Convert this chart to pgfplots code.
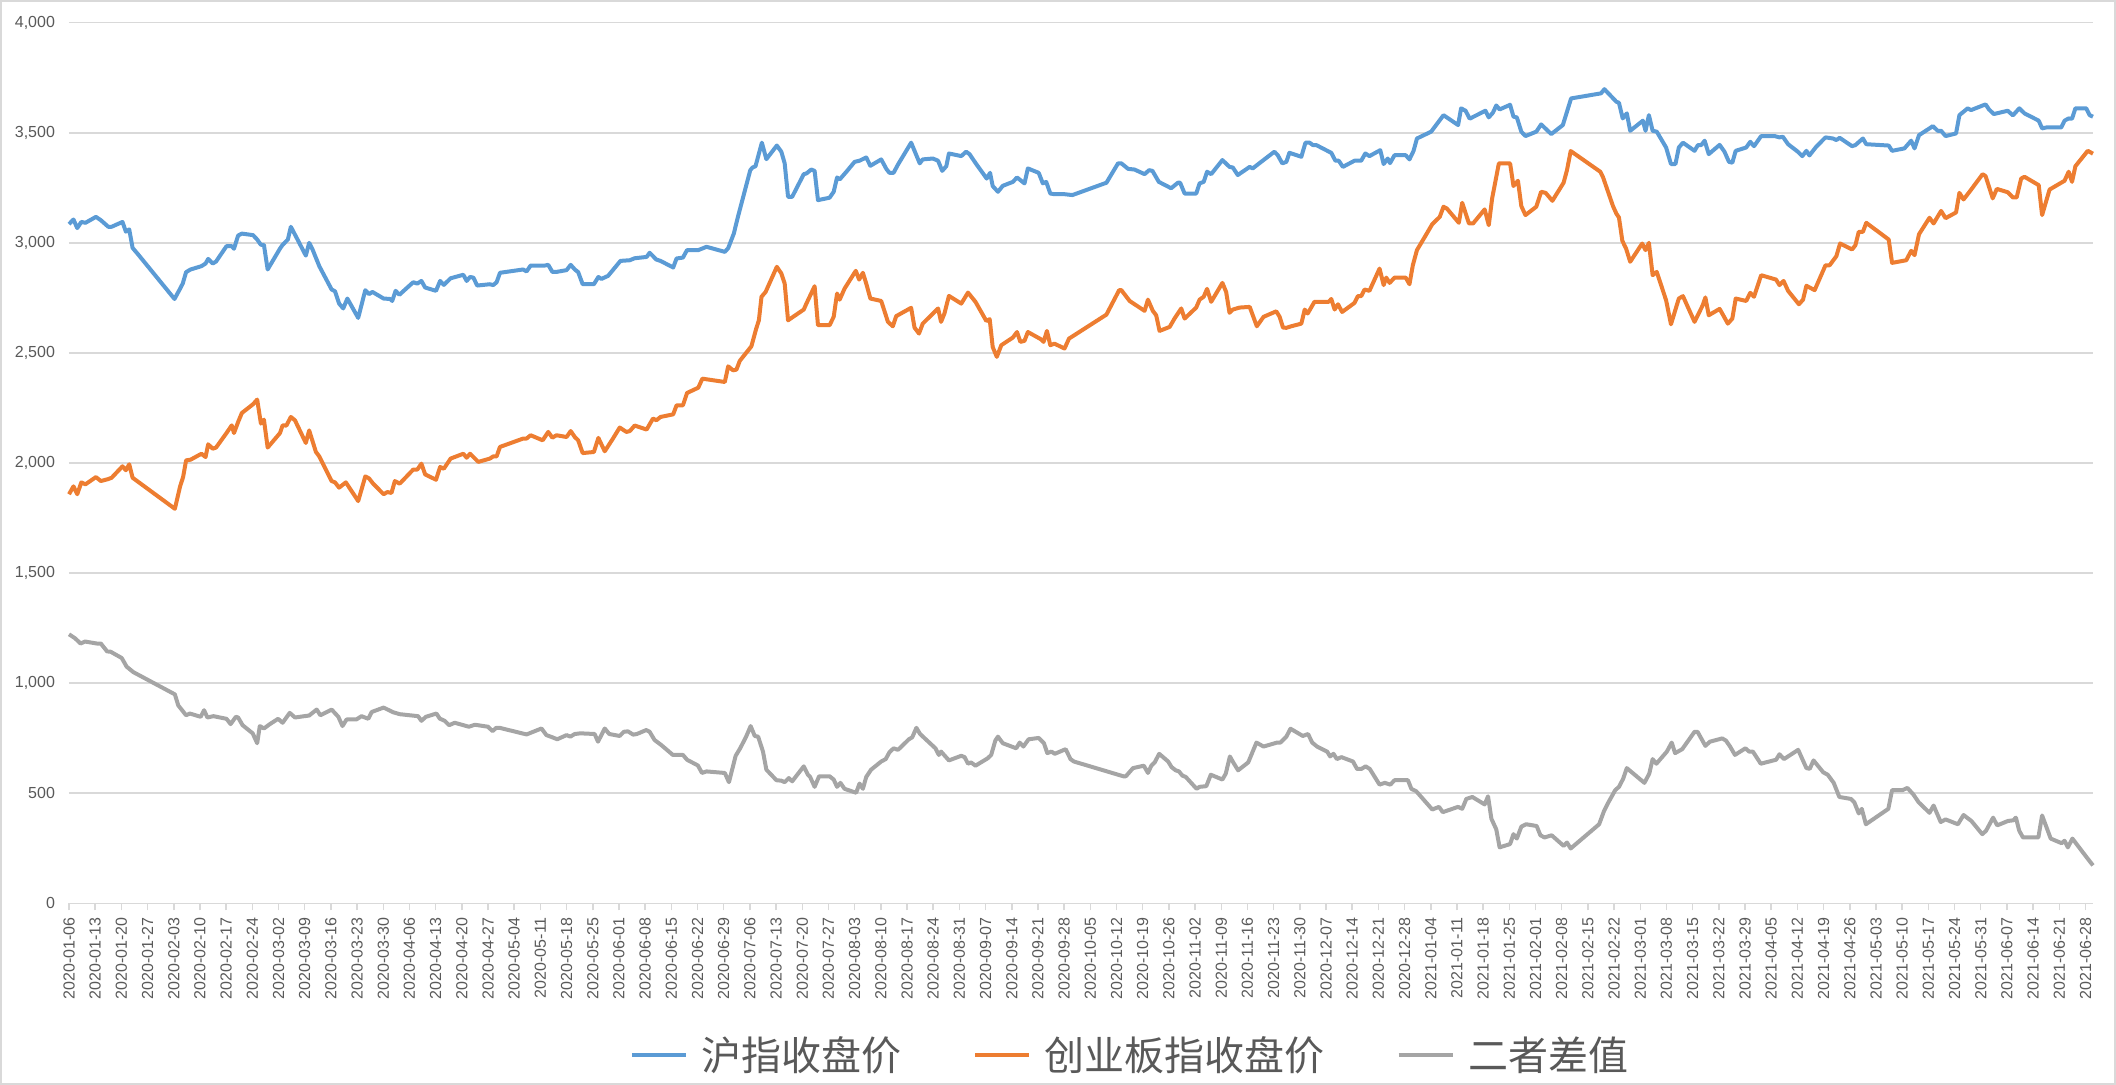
\documentclass[border=0pt]{standalone}
\usepackage{pgfplots}
\pgfplotsset{compat=1.18}
\usepackage{fontspec}
\setmainfont{Liberation Sans}
\newfontfamily\cjk{Noto Sans CJK SC}
\definecolor{sblue}{HTML}{5B9BD5}
\definecolor{sorange}{HTML}{ED7D31}
\definecolor{sgray}{HTML}{A5A5A5}
\definecolor{gridc}{HTML}{D9D9D9}
\definecolor{txt}{HTML}{595959}
\begin{document}
\begin{tikzpicture}
\path[use as bounding box] (0,0) rectangle (1058pt,542.5pt);
\draw[gridc, line width=0.75pt] (0.4pt,0.4pt) rectangle (1057.6pt,542.1pt);
\begin{axis}[
  at={(34.5pt,90.85pt)}, anchor=south west,
  scale only axis, width=1012pt, height=440.3pt,
  xmin=0, xmax=541, ymin=0, ymax=4000,
  clip=false,
  axis line style={draw=none},
  ymajorgrids, grid style={gridc, line width=0.75pt},
  ytick={0,500,...,4000},
  ytick style={draw=none},
  scaled y ticks=false,
  xtick={0,7,...,539},
  xtick pos=left,
  tick align=outside,
  major tick length=3.5pt,
  xtick style={gridc, line width=0.75pt},
  xticklabels={2020-01-06,2020-01-13,2020-01-20,2020-01-27,2020-02-03,2020-02-10,2020-02-17,2020-02-24,2020-03-02,2020-03-09,2020-03-16,2020-03-23,2020-03-30,2020-04-06,2020-04-13,2020-04-20,2020-04-27,2020-05-04,2020-05-11,2020-05-18,2020-05-25,2020-06-01,2020-06-08,2020-06-15,2020-06-22,2020-06-29,2020-07-06,2020-07-13,2020-07-20,2020-07-27,2020-08-03,2020-08-10,2020-08-17,2020-08-24,2020-08-31,2020-09-07,2020-09-14,2020-09-21,2020-09-28,2020-10-05,2020-10-12,2020-10-19,2020-10-26,2020-11-02,2020-11-09,2020-11-16,2020-11-23,2020-11-30,2020-12-07,2020-12-14,2020-12-21,2020-12-28,2021-01-04,2021-01-11,2021-01-18,2021-01-25,2021-02-01,2021-02-08,2021-02-15,2021-02-22,2021-03-01,2021-03-08,2021-03-15,2021-03-22,2021-03-29,2021-04-05,2021-04-12,2021-04-19,2021-04-26,2021-05-03,2021-05-10,2021-05-17,2021-05-24,2021-05-31,2021-06-07,2021-06-14,2021-06-21,2021-06-28},
  x tick label style={rotate=90, anchor=east, font=\fontsize{8}{9}\selectfont, text=txt},
  y tick label style={font=\fontsize{8}{9}\selectfont, text=txt},
  /pgf/number format/1000 sep={,},
  /pgf/number format/assume math mode=true,
  legend columns=3,
  legend style={at={(0.5247,-0.1723)}, anchor=center, draw=none, fill=none,
    font=\cjk\fontsize{20}{24}\selectfont, text=txt,
    /tikz/every odd column/.append style={column sep=4.7pt},
    /tikz/every even column/.append style={column sep=34pt}},
  legend image code/.code={\draw[#1, line width=2pt] (0pt,0pt) -- (27pt,0pt);},
  every axis plot/.append style={line width=2pt, line join=round, no markers},
]
\addplot[sblue] coordinates {
(0,3085) (1.2,3106) (2.2,3067) (3.3,3095) (4.4,3091) (7.2,3118) (8.5,3103) (10.5,3073) (11.4,3073) (14.3,3095) (15.2,3051) (16.1,3061) (17.0,2977) (18.5,2947) (28.2,2745) (29.7,2792) (30.4,2815) (31.3,2867) (32.5,2879) (35.4,2894) (36.5,2906) (37.2,2927) (38.4,2906) (39.3,2915) (42.1,2985) (43.5,2985) (44.1,2973) (45.2,3033) (46.2,3042) (49.2,3035) (50.3,3015) (51.3,2991) (52.1,2991) (53.1,2879) (56.4,2974) (57.1,2991) (58.5,3015) (59.3,3073) (61.3,3008) (63.3,2942) (64.2,3000) (65.1,2970) (66.9,2894) (70.2,2788) (71.1,2780) (72.2,2724) (73.3,2702) (74.4,2747) (77.3,2659) (79.2,2785) (80.2,2767) (81.1,2777) (84.1,2747) (85.8,2745) (86.4,2736) (87.3,2782) (88.3,2764)
(92.0,2821) (93.1,2815) (94.2,2827) (95.2,2797) (98.1,2782) (99.2,2827) (100.2,2809) (102.0,2839) (105.4,2855) (106.3,2827) (107.2,2845) (108.1,2842) (109.1,2806) (112.5,2812) (113.4,2808) (114.3,2821) (115.2,2864) (121.4,2879) (122.3,2870) (123.4,2897) (127.2,2897) (128.1,2900) (129.2,2868) (130.3,2868) (133.0,2876) (134.1,2900) (135.2,2879) (136.1,2867) (137.3,2812) (140.3,2812) (141.5,2845) (142.3,2836) (144.1,2850) (147.4,2918) (149.9,2921) (151.2,2930) (154.4,2936) (155.2,2955) (157.0,2924) (158.1,2918) (161.5,2888) (162.4,2929) (164.1,2933) (165.2,2967) (168.2,2967) (170.4,2982) (175.3,2959) (176.2,2976)
(177.7,3042) (178.8,3118) (182.1,3330) (182.7,3342) (183.5,3348) (185.2,3455) (186.4,3380) (189.2,3442) (190.4,3414) (191.3,3361) (192.2,3209) (193.3,3209) (196.4,3312) (197.1,3315) (198.4,3333) (199.3,3327) (200.2,3194) (203.3,3205) (204.4,3232) (205.3,3297) (206.0,3288) (207.8,3323) (210.0,3368) (211.3,3373) (213.1,3388) (214.2,3350) (217.1,3379) (218.5,3335) (219.3,3318) (220.4,3318) (221.6,3356) (225.1,3455) (227.4,3361) (228.2,3379) (230.9,3383) (232.3,3373) (233.4,3327) (234.5,3348) (235.2,3406) (238.5,3394) (239.8,3414) (240.7,3403) (242.5,3358) (245.3,3292) (246.2,3318) (246.9,3258) (248.3,3232) (249.6,3259) (252.3,3277) (253.4,3297) (255.4,3270) (256.3,3338) (259.2,3318) (260.3,3270) (261.2,3277) (262.3,3224) (263.4,3221) (266.1,3221)
(268.2,3217) (277.3,3273) (280.4,3361) (281.3,3361) (283.1,3336) (284.8,3333) (287.5,3312) (288.7,3330) (289.6,3327) (291.3,3277) (294.6,3248) (296.4,3273) (297.0,3273) (298.2,3224) (301.3,3224) (302.2,3270) (303.3,3277) (304.2,3323) (305.3,3312) (308.3,3376) (310.2,3345) (311.1,3342) (312.4,3308) (315.6,3345) (316.4,3338) (318.9,3371) (322.2,3414) (323.1,3398) (324.3,3361) (325.4,3368) (326.2,3409) (329.4,3391) (330.5,3455) (331.6,3455) (332.5,3444) (333.4,3444) (336.8,3414) (337.4,3409) (338.5,3373) (339.4,3373) (340.5,3345) (343.6,3373) (345.4,3373) (346.5,3406) (347.6,3394) (350.5,3421) (351.4,3358) (352.5,3383)
(353.1,3362) (354.3,3398) (357.3,3398) (358.3,3379) (359.4,3418) (360.3,3474) (364.1,3505) (367.4,3580) (371.3,3535) (372.1,3611) (373.3,3600) (374.4,3564) (378.6,3600) (379.5,3570) (380.6,3591) (381.5,3624) (382.4,3606) (385.2,3627) (386.1,3573) (387.0,3570) (388.2,3505) (389.3,3485) (392.2,3505) (393.5,3538) (396.2,3494) (399.3,3535) (401.5,3656) (409.5,3679) (410.4,3698) (413.6,3641) (414.3,3636) (415.3,3565) (416.4,3588) (417.3,3509) (420.7,3555) (421.4,3509) (422.3,3580) (423.3,3509) (424.4,3505) (426.9,3433) (428.2,3358) (429.4,3358) (430.3,3433) (431.4,3455) (434.5,3418) (435.4,3444) (436.3,3444) (437.2,3464) (438.3,3403) (441.2,3445)
(442.5,3414) (443.7,3368) (444.6,3364) (445.5,3418) (448.3,3433) (449.4,3459) (450.4,3439) (452.3,3485) (455.9,3485) (457.2,3479) (458.1,3482) (459.5,3448) (462.1,3414) (463.3,3394) (464.4,3418) (465.2,3397) (467.0,3436) (469.5,3479) (471.5,3474) (472.4,3467) (473.3,3477) (476.6,3439) (477.5,3444) (479.5,3474) (480.4,3448) (486.4,3442) (487.3,3418) (490.6,3429) (492.4,3464) (493.3,3429) (494.5,3489) (498.2,3530) (499.5,3509) (500.4,3509) (501.6,3485) (504.4,3497) (505.3,3580) (507.5,3611) (508.4,3603) (512.3,3629) (513.2,3606) (514.5,3585) (518.2,3600) (519.6,3579) (521.3,3611) (522.7,3588) (526.5,3555) (527.4,3520) (528.5,3524) (532.5,3524) (533.4,3555) (534.5,3565) (535.4,3564) (536.3,3611) (539.2,3611) (540.1,3580) (541,3573)
};
\addlegendentry{沪指收盘价}
\addplot[sorange] coordinates {
(0,1858) (1.2,1894) (2.2,1858) (3.3,1912) (4.4,1903) (7.2,1936) (8.5,1918) (10.5,1927) (11.4,1933) (14.3,1985) (15.2,1967) (16.1,1994) (17.0,1933) (28.3,1792) (29.7,1894) (30.5,1936) (31.3,2012) (32.5,2015) (35.4,2042) (36.5,2027) (37.2,2085) (38.4,2065) (39.3,2070) (42.1,2136) (43.5,2171) (44.1,2136) (45.2,2186) (46.2,2227) (49.2,2267) (50.3,2288) (51.3,2179) (52.1,2197) (53.1,2070) (56.4,2136) (57.1,2171) (58.1,2170) (59.3,2209) (60.4,2194) (63.3,2091) (64.2,2148) (66.0,2050) (66.9,2030) (70.2,1918) (71.1,1912) (72.2,1888) (74.0,1912) (77.3,1827) (79.2,1939) (80.2,1930) (81.3,1906) (84.1,1858) (85.1,1868) (86.2,1864) (87.1,1918) (88.4,1906)
(92.0,1970) (93.1,1970) (94.2,1997) (95.2,1948) (98.1,1924) (99.2,1982) (100.2,1974) (102.0,2020) (105.4,2042) (106.3,2024) (107.2,2042) (109.4,2005) (112.5,2020) (113.4,2030) (114.3,2030) (115.2,2073) (121.4,2111) (122.3,2111) (123.4,2126) (126.6,2103) (128.1,2141) (129.2,2115) (130.3,2126) (133.0,2118) (134.1,2145) (135.2,2118) (136.1,2103) (137.3,2045) (140.3,2050) (141.5,2114) (143.2,2053) (145.4,2111) (147.2,2161) (149.0,2141) (149.9,2145) (151.2,2170) (154.4,2152) (156.1,2202) (157.0,2194) (158.1,2209) (161.5,2221) (162.4,2262) (164.1,2262) (165.2,2318) (168.2,2342) (169.3,2383) (175.3,2368) (176.2,2439)
(177.5,2421) (178.4,2424) (179.3,2464) (182.4,2530) (183.7,2611) (184.4,2648) (185.1,2755) (186.2,2777) (189.2,2891) (190.4,2861) (191.3,2815) (192.2,2648) (193.3,2661) (196.4,2697) (197.1,2724) (199.3,2803) (200.2,2626) (203.3,2626) (204.4,2664) (205.3,2770) (206.0,2742) (207.3,2792) (210.3,2873) (211.2,2833) (212.2,2864) (213.1,2815) (214.2,2747) (217.1,2736) (218.9,2641) (220.2,2621) (221.1,2667) (225.1,2705) (226.0,2615) (227.2,2588) (228.2,2633) (232.3,2702) (233.1,2641) (234.0,2679) (235.2,2759) (238.5,2724) (240.3,2774) (241.2,2755) (242.3,2732) (245.2,2645) (246.1,2653) (246.9,2527) (248.0,2482) (249.2,2535) (252.3,2570) (253.4,2595) (254.3,2550) (255.4,2555) (256.3,2595) (259.9,2561) (260.5,2550) (261.4,2600) (262.3,2535) (263.4,2542) (266.1,2520)
(267.3,2565) (277.3,2674) (280.7,2785) (281.3,2785) (283.5,2736) (287.5,2691) (288.4,2742) (289.7,2691) (290.6,2671) (291.5,2600) (294.2,2618) (295.5,2656) (297.3,2702) (298.2,2656) (301.3,2706) (302.2,2742) (303.3,2755) (304.2,2791) (305.3,2732) (308.3,2818) (309.3,2777) (310.2,2682) (311.1,2697) (312.9,2706) (315.6,2709) (317.5,2621) (319.3,2664) (322.7,2689) (323.6,2664) (324.5,2615) (325.4,2614) (326.7,2621) (329.4,2633) (330.3,2697) (331.1,2679) (332.9,2732) (336.7,2732) (337.4,2745) (338.3,2697) (339.2,2721) (340.3,2686) (343.6,2727) (344.5,2758) (345.4,2758) (346.3,2788) (347.6,2782) (350.3,2883) (351.4,2808) (352.1,2842) (353.0,2818) (354.3,2842)
(357.3,2842) (358.3,2812) (359.2,2898) (360.3,2967) (362.4,3027) (364.4,3085) (366.4,3118) (367.4,3164) (368.3,3156) (371.5,3091) (372.4,3182) (374.2,3088) (375.3,3088) (378.4,3152) (379.5,3080) (380.4,3202) (382.2,3361) (385.2,3361) (386.1,3258) (387.3,3282) (388.2,3167) (389.3,3126) (392.2,3164) (393.5,3232) (394.7,3227) (396.5,3191) (399.5,3273) (400.4,3330) (401.4,3417) (409.3,3323) (410.0,3300) (412.7,3167) (413.6,3133) (414.3,3115) (415.2,3009) (416.2,2974) (417.3,2914) (420.5,2997) (421.4,2967) (422.3,3000) (423.3,2853) (424.4,2868) (426.9,2739) (428.2,2630) (430.3,2747) (431.4,2758) (434.5,2641) (436.7,2717) (437.4,2752) (438.3,2671) (441.2,2700)
(442.3,2667) (443.4,2633) (444.6,2656) (445.5,2747) (448.3,2736) (449.4,2773) (450.4,2755) (452.3,2853) (456.3,2833) (457.2,2808) (458.3,2827) (459.5,2782) (462.4,2721) (463.5,2742) (464.4,2805) (466.6,2785) (469.5,2898) (470.6,2898) (472.4,2939) (473.4,2997) (476.6,2970) (477.5,2989) (478.4,3050) (479.5,3050) (480.4,3091) (486.4,3015) (487.3,2909) (491.1,2921) (492.4,2964) (493.3,2944) (494.5,3039) (497.3,3114) (498.4,3088) (500.4,3145) (501.6,3112) (504.4,3138) (505.3,3227) (506.4,3197) (508.0,3232) (511.5,3312) (512.3,3303) (514.2,3202) (515.3,3245) (518.2,3230) (519.6,3206) (520.6,3206) (521.8,3292) (522.7,3300) (526.5,3262) (527.4,3126) (529.4,3242) (533.4,3282) (534.5,3323) (535.4,3277) (536.3,3348) (539.6,3418) (541,3405)
};
\addlegendentry{创业板指收盘价}
\addplot[sgray] coordinates {
(0,1222) (1.6,1204) (3.1,1180) (4.3,1189) (7.4,1180) (8.5,1180) (10.2,1144) (11.1,1143) (14.1,1114) (15.4,1075) (17.2,1050) (28.3,949) (29.2,899) (31.3,854) (32.3,862) (35.2,847) (36.1,877) (37.0,844) (38.6,850) (42.1,838) (43.2,814) (44.6,847) (45.2,844) (46.4,809) (49.1,772) (50.3,727) (51.0,805) (52.1,794) (53.7,814) (55.9,838) (57.1,820) (59.0,865) (60.4,844) (64.2,853) (66.2,880) (67.2,854) (70.2,880) (72.0,847) (73.1,805) (74.2,835) (76.8,835) (78.2,850) (80.0,838) (80.9,869) (84.1,889) (86.6,868) (88.4,859) (93.3,850) (94.2,829) (95.4,847) (98.2,862) (99.1,839) (100.4,829) (101.6,809) (103.1,820) (106.9,802) (108.5,811) (112.0,802) (113.2,782) (114.2,797) (115.1,797) (122.3,767) (126.3,794) (127.6,764) (129.2,754) (130.5,745)
(133.0,764) (134.0,757) (135.2,769) (136.7,772) (140.5,769) (141.4,734) (143.2,794) (144.4,769) (147.2,760) (148.3,779) (149.4,781) (150.8,766) (151.8,769) (154.3,787) (155.2,779) (156.5,742) (158.3,719) (161.4,674) (164.1,674) (165.2,652) (168.1,626) (169.2,592) (170.4,599) (175.3,592) (176.4,550) (178.2,670) (179.4,704) (181.0,757) (182.2,805) (183.3,760) (184.2,757) (185.5,689) (186.4,607) (189.1,559) (190.4,557) (191.3,550) (192.4,569) (193.3,554) (196.4,622) (197.5,584) (198.1,574) (199.3,529) (200.5,577) (203.3,577) (204.4,562) (205.3,529) (206.2,547) (207.3,520) (210.4,502) (211.3,544) (212.2,520) (213.1,574) (214.4,607) (217.1,644) (218.3,655) (219.3,686) (220.4,704) (221.6,697) (224.5,745) (225.4,754) (226.5,797) (227.5,769) (229.0,745) (231.6,704) (232.5,674) (233.1,689) (235.2,649) (238.5,670) (239.4,664) (240.3,634) (241.1,640) (242.3,625) (245.6,659) (246.5,674) (247.6,739) (248.3,757) (249.6,727) (253.2,704) (254.1,730) (255.1,712) (256.5,745) (259.2,751)
(260.6,727) (261.5,682) (262.6,689) (263.5,679) (266.4,700) (267.7,655) (268.6,644) (281.8,577) (282.5,577) (284.4,614) (287.3,625) (288.4,592) (289.3,625) (290.2,640) (291.4,679) (293.8,644) (294.7,619) (295.8,604) (296.7,599) (297.6,580) (298.5,574) (301.4,520) (302.2,529) (304.0,532) (305.2,584) (308.3,562) (309.2,589) (310.3,667) (311.3,637) (312.5,604) (315.2,640) (317.4,730) (319.3,712) (322.9,730) (323.8,730) (325.4,757) (326.5,793) (329.8,760) (331.2,769) (332.3,730) (333.6,712) (336.3,689) (337.1,667) (338.0,679) (338.9,655) (340.1,664) (343.2,644) (344.3,610) (345.4,610) (346.6,622) (347.7,610) (350.3,539) (351.7,547) (353.2,539) (354.3,559) (357.9,559) (358.8,520) (360.1,509) (364.4,426) (366.2,438) (367.2,414) (371.3,438) (372.4,429) (373.5,474) (375.1,483) (378.4,449) (379.3,486) (380.2,384) (381.5,336) (382.4,254) (385.2,269) (386.1,314) (387.0,294) (388.2,348) (389.5,359)
(392.3,351) (393.3,309) (394.4,299) (396.3,309) (399.5,261) (400.4,276) (401.4,249) (409.0,359) (410.3,419) (411.4,456) (413.3,514) (414.3,529) (415.4,565) (416.4,614) (421.1,547) (422.4,589) (423.3,655) (424.3,634) (427.1,689) (428.4,730) (429.3,682) (431.2,700) (434.5,779) (435.3,779) (437.4,715) (438.6,734) (441.9,749) (442.9,739) (444.0,712) (445.3,674) (448.1,704) (449.1,689) (450.1,689) (452.2,634) (456.3,652) (457.2,677) (458.4,655) (462.2,697) (464.4,614) (465.3,611) (466.3,649) (468.9,595) (470.1,584) (471.7,547) (473.2,483) (476.3,474) (477.2,459) (478.4,408) (479.2,429) (480.3,359) (486.3,429) (487.3,514) (490.1,514) (491.4,524) (493.0,494) (494.4,459) (497.3,411) (498.4,444) (500.3,369) (501.6,381) (504.9,359) (506.4,401) (508.5,374) (511.4,314) (512.4,329) (514.3,389) (515.4,354) (518.3,374) (519.7,377) (520.4,389) (521.3,329) (522.3,299) (526.4,299) (527.4,399) (529.7,294) (532.6,273) (533.4,284) (534.3,254) (535.5,294) (539.3,209) (541,172)
};
\addlegendentry{二者差值}
\end{axis}
\end{tikzpicture}
\end{document}
